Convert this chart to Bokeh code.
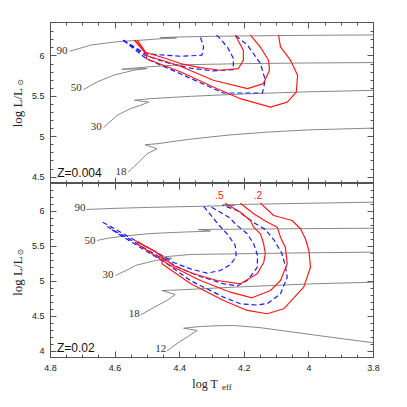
from bokeh.plotting import figure
from bokeh.models import (Range1d, FixedTicker, LinearAxis, Label, CustomJSTickFormatter,
                          CustomLabelingPolicy)
from bokeh.layouts import column, row
from bokeh.embed import file_html
from bokeh.resources import INLINE

# ---------------- data: top panel (Z=0.004) ----------------
top_t90_x = [4.741, 4.70, 4.677, 4.625, 4.579, 4.52, 4.47, 4.41, 4.46, 4.40, 4.3, 4.1, 3.9, 3.8]
top_t90_y = [6.058, 6.105, 6.133, 6.161, 6.182, 6.195, 6.21, 6.222, 6.228, 6.235, 6.243, 6.252, 6.258, 6.26]
top_t50_x = [4.698, 4.656, 4.605, 4.543, 4.501, 4.579, 4.501, 4.40, 4.2, 4.0, 3.8]
top_t50_y = [5.583, 5.677, 5.761, 5.823, 5.844, 5.835, 5.864, 5.890, 5.905, 5.913, 5.918]
top_t30_x = [4.636, 4.594, 4.553, 4.522, 4.496, 4.540, 4.491, 4.367, 4.2, 4.0, 3.8]
top_t30_y = [5.112, 5.264, 5.347, 5.388, 5.429, 5.452, 5.471, 5.500, 5.530, 5.556, 5.574]
top_t18_x = [4.560, 4.532, 4.501, 4.470, 4.507, 4.470, 4.367, 4.25, 4.13, 4.0, 3.8]
top_t18_y = [4.561, 4.665, 4.789, 4.851, 4.901, 4.913, 4.970, 5.02, 5.057, 5.085, 5.107]

top_blue_a_x = [4.575, 4.507, 4.445, 4.398, 4.331, 4.326, 4.336, 4.339]
top_blue_a_y = [6.195, 6.030, 6.009, 5.996, 6.009, 6.112, 6.236, 6.257]
top_blue_b_x = [4.575, 4.507, 4.445, 4.367, 4.296, 4.234, 4.234, 4.252, 4.280, 4.287]
top_blue_b_y = [6.195, 6.009, 5.922, 5.849, 5.814, 5.831, 5.971, 6.108, 6.236, 6.257]
top_blue_c_x = [4.575, 4.503, 4.398, 4.265, 4.144, 4.135, 4.150, 4.190, 4.228]
top_blue_c_y = [6.195, 5.965, 5.779, 5.541, 5.541, 5.699, 5.906, 6.133, 6.257]
top_red_a_x = [4.538, 4.507, 4.445, 4.398, 4.336, 4.274, 4.218, 4.203, 4.203, 4.228]
top_red_a_y = [6.195, 6.046, 5.971, 5.906, 5.856, 5.823, 5.844, 5.947, 6.071, 6.257]
top_red_b_x = [4.531, 4.497, 4.445, 4.398, 4.296, 4.190, 4.141, 4.122, 4.125, 4.150, 4.181]
top_red_b_y = [6.195, 5.996, 5.934, 5.872, 5.699, 5.596, 5.658, 5.823, 5.947, 6.108, 6.257]
top_red_c_x = [4.541, 4.503, 4.503, 4.398, 4.296, 4.212, 4.119, 4.067, 4.039, 4.035, 4.057, 4.088, 4.094]
top_red_c_y = [6.195, 6.021, 5.965, 5.804, 5.615, 5.471, 5.367, 5.429, 5.553, 5.761, 5.947, 6.112, 6.257]

top_mass_labels = ["90", "50", "30", "18"]
top_mass_x = [4.747, 4.703, 4.641, 4.565]
top_mass_y = [6.071, 5.612, 5.128, 4.573]
top_z_label = "Z=0.004"
top_z_pos = (4.779, 4.548)

# ---------------- data: bottom panel (Z=0.02) ----------------
bot_t90_x = [4.689, 4.60, 4.50, 4.40, 4.30, 4.27, 4.23, 4.265, 4.22, 4.0, 3.8]
bot_t90_y = [6.029, 6.045, 6.058, 6.068, 6.078, 6.082, 6.088, 6.094, 6.100, 6.118, 6.133]
bot_t50_x = [4.656, 4.62, 4.56, 4.49, 4.42, 4.35, 4.305, 4.342, 4.30, 4.1, 3.95, 3.8]
bot_t50_y = [5.586, 5.62, 5.655, 5.685, 5.70, 5.712, 5.721, 5.743, 5.745, 5.752, 5.757, 5.761]
bot_t30_x = [4.599, 4.56, 4.537, 4.475, 4.424, 4.465, 4.403, 4.367, 4.2, 4.0, 3.8]
bot_t30_y = [5.086, 5.17, 5.229, 5.30, 5.33, 5.345, 5.371, 5.386, 5.397, 5.41, 5.419]
bot_t18_x = [4.520, 4.48, 4.439, 4.414, 4.455, 4.398, 4.233, 4.0, 3.8]
bot_t18_y = [4.524, 4.63, 4.729, 4.814, 4.871, 4.881, 4.919, 4.965, 4.99]
bot_t12_x = [4.439, 4.40, 4.377, 4.346, 4.388, 4.336, 4.28, 4.233, 4.15, 4.078, 3.95, 3.8]
bot_t12_y = [4.01, 4.14, 4.204, 4.30, 4.333, 4.357, 4.368, 4.371, 4.34, 4.295, 4.215, 4.124]

bot_blue_a_x = [4.638, 4.543, 4.460, 4.419, 4.367, 4.315, 4.274, 4.243, 4.225, 4.228, 4.249, 4.280, 4.305, 4.324, 4.330]
bot_blue_a_y = [5.847, 5.600, 5.386, 5.271, 5.181, 5.119, 5.157, 5.243, 5.357, 5.514, 5.657, 5.814, 5.957, 6.064, 6.086]
bot_blue_b_x = [4.625, 4.543, 4.460, 4.398, 4.336, 4.264, 4.222, 4.191, 4.160, 4.159, 4.171, 4.191, 4.222, 4.248, 4.284, 4.310]
bot_blue_b_y = [5.786, 5.571, 5.343, 5.186, 5.071, 4.967, 4.936, 5.014, 5.200, 5.371, 5.539, 5.681, 5.800, 5.919, 6.014, 6.086]
bot_blue_c_x = [4.610, 4.522, 4.445, 4.367, 4.264, 4.212, 4.163, 4.128, 4.088, 4.067, 4.073, 4.085, 4.107, 4.135, 4.171, 4.222, 4.268]
bot_blue_c_y = [5.739, 5.486, 5.271, 5.014, 4.776, 4.681, 4.664, 4.686, 4.824, 5.061, 5.229, 5.414, 5.586, 5.743, 5.843, 6.014, 6.093]
bot_red_a_x = [4.538, 4.476, 4.419, 4.357, 4.284, 4.212, 4.160, 4.140, 4.135, 4.140, 4.150, 4.171, 4.181, 4.212, 4.259]
bot_red_a_y = [5.586, 5.429, 5.229, 5.110, 5.014, 4.967, 5.110, 5.271, 5.396, 5.539, 5.681, 5.776, 5.871, 5.990, 6.119]
bot_red_b_x = [4.534, 4.491, 4.429, 4.336, 4.243, 4.176, 4.119, 4.088, 4.067, 4.073, 4.088, 4.098, 4.132, 4.171, 4.212]
bot_red_b_y = [5.543, 5.414, 5.229, 5.014, 4.847, 4.767, 4.871, 5.014, 5.253, 5.490, 5.633, 5.776, 5.857, 5.967, 6.119]
bot_red_c_x = [4.531, 4.476, 4.455, 4.455, 4.367, 4.264, 4.191, 4.129, 4.078, 4.016, 3.995, 4.000, 4.011, 4.026, 4.052, 4.109, 4.150]
bot_red_c_y = [5.564, 5.429, 5.357, 5.253, 4.971, 4.729, 4.586, 4.539, 4.610, 4.919, 5.204, 5.443, 5.610, 5.753, 5.871, 5.943, 6.119]

bot_mass_labels = ["90", "50", "30", "18", "12"]
bot_mass_x = [4.692, 4.661, 4.605, 4.524, 4.442]
bot_mass_y = [6.057, 5.586, 5.096, 4.543, 4.039]
bot_z_label = "Z=0.02"
bot_z_pos = (4.780, 4.05)
red_tags = [".5", ".2"]
red_tags_x = [4.277, 4.158]
red_tags_y = [6.229, 6.229]

# axis ranges and ticks
x_limits = (4.8, 3.8)
top_ylim = (4.421, 6.414)
bot_ylim = (3.914, 6.40)
x_major = [3.8, 4.0, 4.2, 4.4, 4.6, 4.8]
x_minor = [round(3.8 + 0.05 * i, 2) for i in range(21)]
top_y_major = [4.5, 5.0, 5.5, 6.0]
top_y_minor = [round(4.5 + 0.1 * i, 1) for i in range(19)]
bot_y_major = [4.0, 4.5, 5.0, 5.5, 6.0]
bot_y_minor = [round(4.0 + 0.1 * i, 1) for i in range(24)]
y_title = "log  L/L"
x_title = "log  T"
x_title_sub = "eff"
sun = "\u2299"

GRAY = "#7a7a7a"
RED = "#ff1a1a"
BLUE = "#1a1aff"
FRAME = "#555555"
SANS = "Liberation Sans"
SERIF = "Liberation Serif"

LEFT_W = 28          # width of the strip that holds the rotated y titles
TOP_H = 22 + 161     # canvas height of upper panel
BOT_H = 174 + 20     # canvas height of lower panel
XT_H = 20            # strip holding the x title
FULL_W = 50 + 323 + 26

fmt = CustomJSTickFormatter(code="return String(Math.round(tick*10)/10);")
no_labels = CustomLabelingPolicy(code="""
const n = indices.size
for (let i = 0; i < n; i++) { indices.unset(i) }
return indices
""")


def add_axes(p, y_major, y_minor, xlabels):
    for loc in ("left", "right", "above", "below"):
        if loc in ("left", "right"):
            tk = FixedTicker(ticks=y_major, minor_ticks=y_minor)
            show = loc == "left"
        else:
            tk = FixedTicker(ticks=x_major, minor_ticks=x_minor)
            show = xlabels and loc == "below"
        ax = LinearAxis(ticker=tk, formatter=fmt)
        ax.major_tick_in = 6
        ax.major_tick_out = 0
        ax.minor_tick_in = 3
        ax.minor_tick_out = 0
        ax.axis_line_color = FRAME
        ax.major_tick_line_color = FRAME
        ax.minor_tick_line_color = FRAME
        if show:
            ax.major_label_text_font = SANS
            ax.major_label_text_font_size = "9px"
            ax.major_label_text_color = "#222222"
            ax.major_label_standoff = 7 if loc == "below" else 6
        else:
            ax.major_label_text_font_size = "0px"
            ax.major_label_standoff = 0
            ax.major_label_policy = no_labels
        p.add_layout(ax, loc)


def make_panel(ylim, frame_h, border_top, border_bottom):
    p = figure(frame_width=323, frame_height=frame_h,
               x_range=Range1d(*x_limits), y_range=Range1d(*ylim),
               output_backend="svg", toolbar_location=None,
               x_axis_location=None, y_axis_location=None,
               min_border_left=50 - LEFT_W, min_border_right=26,
               min_border_top=border_top, min_border_bottom=border_bottom)
    p.grid.visible = False
    p.outline_line_color = FRAME
    p.background_fill_color = "white"
    p.border_fill_color = "white"
    return p


def text_strip(w, h):
    f = figure(frame_width=w, frame_height=h, x_range=Range1d(0, w), y_range=Range1d(0, h),
               output_backend="svg", toolbar_location=None,
               x_axis_location=None, y_axis_location=None, min_border=0)
    f.grid.visible = False
    f.outline_line_color = None
    f.background_fill_color = "white"
    f.border_fill_color = "white"
    return f


def tracks(p, pairs):
    for xs, ys in pairs:
        p.line(xs, ys, line_color=GRAY, line_width=0.9)


def reds(p, pairs):
    for xs, ys in pairs:
        p.line(xs, ys, line_color=RED, line_width=1.2)


def blues(p, pairs):
    for xs, ys in pairs:
        p.line(xs, ys, line_color=BLUE, line_width=1.2, line_dash="5 3")


def mass_labels(p, texts, xs, ys):
    for t, x, y in zip(texts, xs, ys):
        p.add_layout(Label(x=x, y=y, text=t, text_align="right", text_baseline="middle",
                           text_font=SERIF, text_font_size="11px", text_color="#333333"))


def y_title_strip(h, main_y, sun_y):
    f = text_strip(LEFT_W, h)
    f.add_layout(Label(x=17, y=main_y, text=y_title, angle=1.5707963,
                       text_align="center", text_baseline="middle",
                       text_font=SERIF, text_font_size="13px", text_color="#222222"))
    f.add_layout(Label(x=19.5, y=sun_y, text=sun, angle=1.5707963,
                       text_align="center", text_baseline="middle",
                       text_font="DejaVu Sans", text_font_size="8px", text_color="#222222"))
    return f


# ---------------- top panel ----------------
p1 = make_panel(top_ylim, 161, 22, 0)
add_axes(p1, top_y_major, top_y_minor, xlabels=False)
tracks(p1, [(top_t90_x, top_t90_y), (top_t50_x, top_t50_y), (top_t30_x, top_t30_y), (top_t18_x, top_t18_y)])
blues(p1, [(top_blue_a_x, top_blue_a_y), (top_blue_b_x, top_blue_b_y), (top_blue_c_x, top_blue_c_y)])
reds(p1, [(top_red_a_x, top_red_a_y), (top_red_b_x, top_red_b_y), (top_red_c_x, top_red_c_y)])
mass_labels(p1, top_mass_labels, top_mass_x, top_mass_y)
p1.add_layout(Label(x=top_z_pos[0], y=top_z_pos[1], text=top_z_label, text_align="left",
                    text_baseline="middle", text_font=SANS, text_font_size="12px", text_color="#111111"))

# ---------------- bottom panel ----------------
p2 = make_panel(bot_ylim, 174, 0, 20)
add_axes(p2, bot_y_major, bot_y_minor, xlabels=True)
tracks(p2, [(bot_t90_x, bot_t90_y), (bot_t50_x, bot_t50_y), (bot_t30_x, bot_t30_y),
            (bot_t18_x, bot_t18_y), (bot_t12_x, bot_t12_y)])
blues(p2, [(bot_blue_a_x, bot_blue_a_y), (bot_blue_b_x, bot_blue_b_y), (bot_blue_c_x, bot_blue_c_y)])
reds(p2, [(bot_red_a_x, bot_red_a_y), (bot_red_b_x, bot_red_b_y), (bot_red_c_x, bot_red_c_y)])
mass_labels(p2, bot_mass_labels, bot_mass_x, bot_mass_y)
p2.add_layout(Label(x=bot_z_pos[0], y=bot_z_pos[1], text=bot_z_label, text_align="left",
                    text_baseline="middle", text_font=SANS, text_font_size="12px", text_color="#111111"))
for t, x, y in zip(red_tags, red_tags_x, red_tags_y):
    p2.add_layout(Label(x=x, y=y, text=t, text_align="center", text_baseline="middle",
                        text_font=SANS, text_font_size="10px", text_color=RED))

# ---------------- title strips ----------------
yt1 = y_title_strip(TOP_H, 77.5, 101)
yt2 = y_title_strip(BOT_H, 103, 125.3)
xt = text_strip(FULL_W, XT_H)
xt.add_layout(Label(x=220.5, y=14, text=x_title, text_align="right", text_baseline="middle",
                    text_font=SERIF, text_font_size="12px", text_color="#222222"))
xt.add_layout(Label(x=221.5, y=10.5, text=x_title_sub, text_align="left", text_baseline="middle",
                    text_font=SERIF, text_font_size="9px", text_color="#222222"))

layout = column(row(column(yt1, yt2, spacing=0), column(p1, p2, spacing=0), spacing=0), xt, spacing=0)
open("out.html", "w").write(file_html(layout, INLINE))
